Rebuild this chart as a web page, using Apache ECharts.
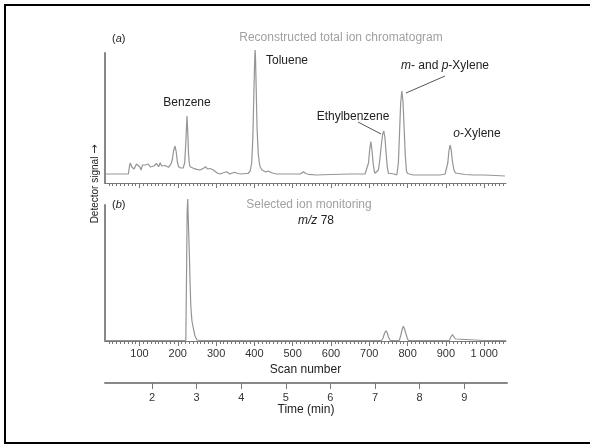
<!DOCTYPE html>
<html><head><meta charset="utf-8">
<script src="https://cdn.jsdelivr.net/npm/echarts@6/dist/echarts.min.js"></script>
<style>html,body{margin:0;padding:0;background:#fff}#c{width:590px;height:446px}</style>
</head><body><div id="c"></div>
<script>
// ---- data ----
const scanMajorTicks = [100,200,300,400,500,600,700,800,900,1000];
const scanTickLabels = ['100','200','300','400','500','600','700','800','900','1 000'];
const timeTicks = [2,3,4,5,6,7,8,9];
const timeTickLabels = ['2','3','4','5','6','7','8','9'];
// (a) reconstructed total ion chromatogram: [scan, signal]
const ticData = [[10,9],[40,9],[71,9],[74,17],[76,20],[80,16],[86,14],[92,19],[97,21],[101,16],[104,13],[108,18],[110,19],[116,18],[123,19],[128,16],[132,14.7],[138,17],[144,19.7],[150,16.3],[154,20.3],[158,17],[163,16.3],[167,17.5],[170,18],[176,15.7],[180,17],[183,19.7],[186,24],[189,32],[193,37],[196,31],[199,21],[202,16.3],[208,15],[214,15],[218,20],[221,40],[224,67],[226,52],[228,30],[230,20],[232,16.3],[236,15],[241,14.7],[245,14],[250,13.7],[254,13.5],[258,13],[263,14],[267,14.7],[273,16.3],[277,14],[280,13],[284,14.5],[289,16.3],[293,13],[297,11.3],[303,10],[310,9],[317,10],[322,11.5],[328,11.3],[332,10],[336,9],[342,10],[349,10.7],[356,9.5],[367,9],[376,9.5],[384,9.7],[389,12],[393,20],[396,45],[399,95],[401,125],[402,133],[403,125],[405,90],[407,55],[410,30],[413,20],[415,16.3],[420,13],[424,11.3],[430,11],[436,12],[441,11.3],[447,10],[458,9],[480,9],[502,9],[520,9],[528,11.3],[534,9.5],[541,8.7],[563,8],[600,8.5],[650,9],[675,9],[689,9],[694,11],[698,20],[701,33],[704,41.3],[707,33],[710,20],[713,12],[715,9.7],[720,10],[724,13],[728,25],[732,40],[735,49],[738,52],[741,45],[744,30],[747,16],[750,9.7],[756,9.5],[765,9],[772,8],[776,20],[779,50],[782,80],[785,92],[788,82],[791,55],[794,28],[797,12],[800,9.5],[815,8],[850,8],[885,8],[898,9],[902,10.5],[905,20],[908,32],[911,38],[914,33],[917,22],[921,13],[925,10],[928,9],[950,8.5],[972,8],[1000,8],[1030,7.5],[1054,7]];
// (b) selected ion monitoring m/z 78: [scan, signal]
const simData = [[10,0.5],[100,0.5],[200,0.5],[221,0.5],[223,70],[224.5,130],[226,142],[228,115],[230.4,85],[232,60],[234,35],[237,20],[241,12],[245,5],[250,1],[260,0.5],[400,0.5],[600,0.5],[732,0.5],[736,3],[740,8],[744,10.3],[747,8],[750,4],[755,0.5],[778,0.5],[782,5],[786,12],[789,14.7],[792,12],[796,7],[799,3],[802,0.5],[885,0.5],[889,1.5],[893,0.5],[909,0.5],[913,4],[917,6.3],[921,4.5],[925,2],[928,0.5],[1000,0.5],[1057,0.5]];

const scanMinorTicks = [];
for (let v = 20; v <= 1050; v += 10) scanMinorTicks.push(v);

const FONT = '"Liberation Sans", Arial, Helvetica, sans-serif';
const AX = '#777';

function scanAxis(grid, ticks, len, withLabels) {
  return {
    gridIndex: grid, type: 'value', min: 10, max: 1057, position: 'bottom', offset: 0,
    axisLine: { show: !withLabels && ticks === scanMinorTicks, lineStyle: { color: AX, width: 1 } },
    axisTick: { show: true, customValues: ticks, length: len, inside: false, lineStyle: { color: AX, width: 1 } },
    axisLabel: withLabels ? {
      show: true, customValues: scanMajorTicks, margin: 7, fontSize: 11, color: '#333', fontFamily: FONT,
      formatter: v => scanTickLabels[scanMajorTicks.indexOf(v)]
    } : { show: false },
    splitLine: { show: false },
    name: withLabels ? 'Scan number' : '', nameLocation: 'middle', nameGap: 23,
    nameTextStyle: { fontSize: 12, color: '#222', fontFamily: FONT }
  };
}
function yAx(grid, max) {
  return {
    gridIndex: grid, type: 'value', min: 0, max: max,
    axisLine: { show: true, lineStyle: { color: '#888', width: 2 } },
    axisTick: { show: false }, axisLabel: { show: false }, splitLine: { show: false }
  };
}

const chart = echarts.init(document.getElementById('c'), null, { renderer: 'canvas' });
chart.setOption({
  animation: false,
  backgroundColor: '#fff',
  textStyle: { fontFamily: FONT },
  grid: [
    { left: 105, top: 53, width: 401, height: 130 },
    { left: 105, top: 205, width: 401, height: 136 },
    { left: 105, top: 382, width: 402, height: 1 }
  ],
  xAxis: [
    scanAxis(0, scanMinorTicks, 3, false),
    scanAxis(0, scanMajorTicks, 5, false),
    scanAxis(1, scanMinorTicks, 3, false),
    scanAxis(1, scanMajorTicks, 5, true),
    {
      gridIndex: 2, type: 'value', min: 0.946, max: 9.96, position: 'bottom',
      axisLine: { show: true, lineStyle: { color: '#888', width: 2 } },
      axisTick: { show: true, customValues: timeTicks, length: 6, lineStyle: { color: '#777', width: 1 } },
      axisLabel: { show: true, customValues: timeTicks, margin: 9, fontSize: 11, color: '#333', fontFamily: FONT,
        formatter: v => timeTickLabels[timeTicks.indexOf(v)] },
      splitLine: { show: false },
      name: 'Time (min)', nameLocation: 'middle', nameGap: 20,
      nameTextStyle: { fontSize: 12, color: '#222', fontFamily: FONT }
    }
  ],
  yAxis: [
    yAx(0, 130),
    yAx(1, 136),
    { gridIndex: 2, type: 'value', min: 0, max: 1, show: false }
  ],
  series: [
    { type: 'line', xAxisIndex: 0, yAxisIndex: 0, data: ticData, showSymbol: false, clip: false,
      lineStyle: { color: '#959595', width: 1.2 } },
    { type: 'line', xAxisIndex: 2, yAxisIndex: 1, data: simData, showSymbol: false, clip: false,
      lineStyle: { color: '#959595', width: 1.2 } }
  ],
  graphic: [
    { type: 'rect', shape: { x: 5, y: 5, width: 620, height: 438 }, style: { fill: 'none', stroke: '#000', lineWidth: 2 }, silent: true },
    { type: 'text', x: 112, y: 39, style: { text: '({i|a})', rich: { i: { fontStyle: 'italic', fontSize: 11, fontFamily: FONT, fill: '#222' } }, fontSize: 11, fontFamily: FONT, fill: '#222', verticalAlign: 'middle' } },
    { type: 'text', x: 341, y: 38, style: { text: 'Reconstructed total ion chromatogram', fontSize: 12, fontFamily: FONT, fill: '#a0a0a0', align: 'center', verticalAlign: 'middle' } },
    { type: 'text', x: 187, y: 103, style: { text: 'Benzene', fontSize: 12, fontFamily: FONT, fill: '#222', align: 'center', verticalAlign: 'middle' } },
    { type: 'text', x: 287, y: 61, style: { text: 'Toluene', fontSize: 12, fontFamily: FONT, fill: '#222', align: 'center', verticalAlign: 'middle' } },
    { type: 'text', x: 353, y: 117, style: { text: 'Ethylbenzene', fontSize: 12, fontFamily: FONT, fill: '#222', align: 'center', verticalAlign: 'middle' } },
    { type: 'text', x: 445, y: 66, style: { text: '{i|m}- and {i|p}-Xylene', rich: { i: { fontStyle: 'italic', fontSize: 12, fontFamily: FONT, fill: '#222' } }, fontSize: 12, fontFamily: FONT, fill: '#222', align: 'center', verticalAlign: 'middle' } },
    { type: 'text', x: 477, y: 134, style: { text: '{i|o}-Xylene', rich: { i: { fontStyle: 'italic', fontSize: 12, fontFamily: FONT, fill: '#222' } }, fontSize: 12, fontFamily: FONT, fill: '#222', align: 'center', verticalAlign: 'middle' } },
    { type: 'line', shape: { x1: 358, y1: 122, x2: 381, y2: 134 }, style: { stroke: '#555', lineWidth: 1 } },
    { type: 'line', shape: { x1: 445, y1: 76, x2: 406, y2: 93 }, style: { stroke: '#555', lineWidth: 1 } },
    { type: 'text', x: 112, y: 205, style: { text: '({i|b})', rich: { i: { fontStyle: 'italic', fontSize: 11, fontFamily: FONT, fill: '#222' } }, fontSize: 11, fontFamily: FONT, fill: '#222', verticalAlign: 'middle' } },
    { type: 'text', x: 309, y: 205, style: { text: 'Selected ion monitoring', fontSize: 12, fontFamily: FONT, fill: '#a0a0a0', align: 'center', verticalAlign: 'middle' } },
    { type: 'text', x: 316, y: 221, style: { text: '{i|m/z} 78', rich: { i: { fontStyle: 'italic', fontSize: 12, fontFamily: FONT, fill: '#222' } }, fontSize: 12, fontFamily: FONT, fill: '#222', align: 'center', verticalAlign: 'middle' } },
    { type: 'text', x: 95, y: 184, rotation: Math.PI / 2, style: { text: 'Detector signal {ar|\u2192}', rich: { ar: { fontSize: 11, fontFamily: '"DejaVu Sans", sans-serif', fill: '#222' } }, fontSize: 10, fontFamily: FONT, fill: '#222', align: 'center', verticalAlign: 'middle' } }
  ]
});
</script>
</body></html>
